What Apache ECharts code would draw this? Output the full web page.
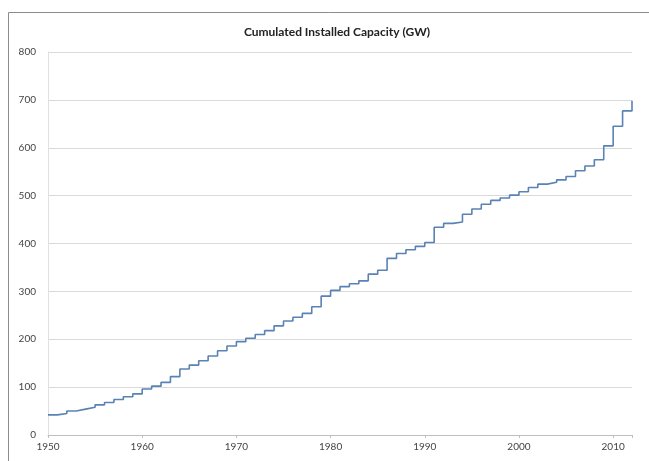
<!DOCTYPE html>
<html>
<head>
<meta charset="utf-8">
<script src="https://cdn.jsdelivr.net/npm/echarts@6/dist/echarts.min.js"></script>
<style>
html,body{margin:0;padding:0;background:#fff;}
#c{width:649px;height:461px;}
</style>
</head>
<body>
<div id="c"></div>
<script>
const title = "Cumulated Installed Capacity (GW)";
const startYear = 1950;
const capacity = [
  42, 45, 50, 54, 58, 63, 68, 74, 80, 86,
  96, 102, 110, 122, 138, 146, 155, 165, 176, 186,
  195, 202, 210, 218, 228, 238, 246, 254, 268, 290,
  302, 310, 316, 322, 336, 344, 369, 379, 387, 394,
  402, 434, 442, 445, 461, 472, 482, 490, 495, 501,
  508, 517, 524, 528, 533, 540, 552, 562, 575, 604,
  645, 677, 698
];
const years = capacity.map((v, i) => startYear + i);
const yTicks = [0, 100, 200, 300, 400, 500, 600, 700, 800];
const xTicks = [1950, 1960, 1970, 1980, 1990, 2000, 2010];

const chart = echarts.init(document.getElementById('c'));
chart.setOption({
  animation: false,
  backgroundColor: '#fff',
  title: {
    text: title,
    left: 332, top: 21, textAlign: 'center',
    textStyle: {fontFamily: 'Lato', fontWeight: 'bold', fontSize: 12, color: '#222'}
  },
  graphic: [{
    type: 'rect', shape: {x: 8.5, y: 12.5, width: 660, height: 470},
    style: {fill: 'none', stroke: '#8c8c8c', lineWidth: 1}, silent: true, z: -1
  }],
  grid: {left: 48, right: 17, top: 52, bottom: 26},
  xAxis: {
    type: 'value', min: 1950, max: 2012, interval: 10,
    axisLine: {show: true, onZero: false, lineStyle: {color: '#bfbfbf'}},
    axisTick: {show: true, length: 3, lineStyle: {color: '#bfbfbf'}},
    splitLine: {show: false},
    axisLabel: {
      fontFamily: 'Lato', fontSize: 10, color: '#444', margin: 7,
      formatter: v => (xTicks.indexOf(v) >= 0 ? String(v) : '')
    }
  },
  yAxis: {
    type: 'value', min: 0, max: 800, interval: 100,
    axisLine: {show: true, lineStyle: {color: '#e0e0e0'}},
    axisTick: {show: false},
    splitLine: {lineStyle: {color: '#d9d9d9', width: 1}},
    axisLabel: {
      fontFamily: 'Lato', fontSize: 10, color: '#444', margin: 12,
      formatter: v => (yTicks.indexOf(v) >= 0 ? String(v) : '')
    }
  },
  series: [{
    type: 'line', step: 'end', showSymbol: false,
    data: years.map((y, i) => [y, capacity[i]]),
    lineStyle: {color: '#5a82b4', width: 1.6}
  }]
});
</script>
</body>
</html>
